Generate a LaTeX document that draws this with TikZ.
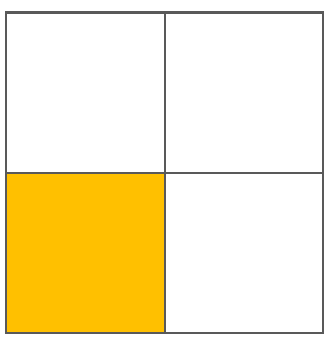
\documentclass[tikz,border=0pt]{standalone}
\definecolor{gold}{HTML}{FFC000}
\definecolor{gridline}{HTML}{595959}
\begin{document}
\begin{tikzpicture}[x=1pt,y=-1pt,
  cell/.style={draw=gridline,line width=2.6pt}]
\useasboundingbox (0,0) rectangle (326,339);
\fill[gold] (6,173) rectangle (165,333);
\draw[cell] (6,12.5) rectangle (323,333);
\draw[cell] (165,12.5) -- (165,333);
\draw[cell] (6,173) -- (323,173);
\end{tikzpicture}
\end{document}
